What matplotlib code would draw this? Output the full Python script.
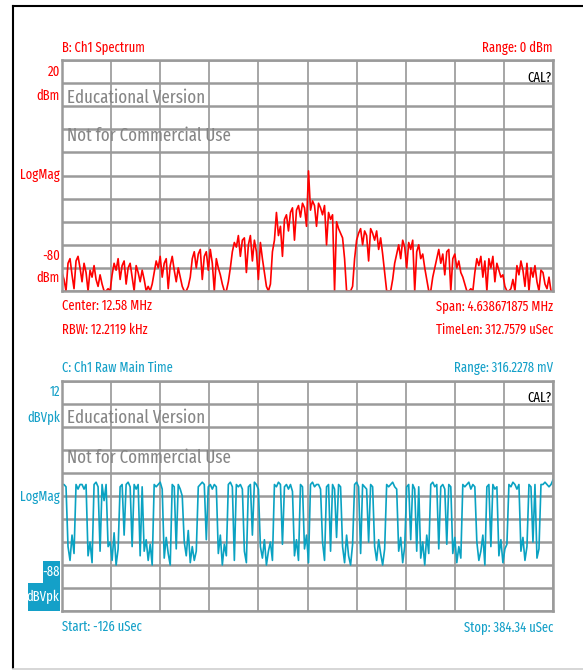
import numpy as np
import matplotlib
matplotlib.use("Agg")
import matplotlib.pyplot as plt
from matplotlib.lines import Line2D
from matplotlib.patches import Rectangle

plt.rcParams['font.family'] = ['Fira Sans Extra Condensed', 'Roboto Condensed', 'Liberation Sans', 'DejaVu Sans']

W, H = 583, 670

# spectrum settings (channel B)
center_mhz = 12.58
span_mhz = 4.638671875
spec_top, spec_bottom = 20, -80

# log-magnitude spectrum, dBm, left to right across the span
spec_dbm = [
    -72, -75, -80, -68, -66, -73, -79, -67, -65, -70, -76, -68, -72, -80, -71, -74, -69, -75, -78, -73, -77, -80,
    -80, -79, -80,
    -73, -68, -71, -66, -75, -69, -67, -77, -70, -68, -74, -80, -69, -72, -76, -71,
    -75, -80, -78, -80, -77,
    -72, -67, -70, -65, -74, -68, -66, -79, -69, -65, -71, -76, -70, -74, -78,
    -80, -80, -78,
    -74, -66, -63, -70, -64, -62, -75, -65, -63, -71, -62, -68, -80, -66, -70, -73, -77,
    -80, -80, -76,
    -70, -63, -59, -61, -56, -65, -58, -57, -72, -60, -56, -67, -58, -63, -75, -59, -66, -72, -78,
    -80, -77,
    -63, -58, -46, -56, -52, -65, -49, -47, -54, -46, -44, -58, -45, -43, -48, -42, -44, -52,
    -28,
    -45, -41, -43, -52, -42, -44, -47, -43, -60, -46, -49, -47, -80, -50, -53, -55, -57, -66,
    -80, -80, -80, -78,
    -66, -58, -55, -53, -60, -54, -56, -67, -53, -55, -58, -54, -62, -57, -64,
    -72, -80, -80, -80, -75,
    -68, -64, -60, -66, -58, -61, -70, -59, -62, -58, -80, -63, -60, -66, -64, -70,
    -75, -80, -80, -74,
    -70, -66, -62, -68, -64, -73, -63, -62, -80, -66, -64, -70, -67, -72, -74,
    -77, -80, -80, -79, -80,
    -72, -66, -69, -65, -74, -67, -80, -66, -70, -65, -76, -68, -71, -74, -73,
    -78, -80, -80, -79,
    -75, -80, -69, -73, -67, -71, -78, -68, -80, -70, -74, -69, -76, -80, -71, -72, -77, -79, -74, -80, -80,
]

# raw time record settings (channel C)
t_start_us, t_stop_us = -126.0, 384.34
time_top, time_bottom = 12, -88

# log-magnitude of the raw time record, dBVpk
time_dbvpk = [
    -33, -33, -34,
    -60, -66, -55, -63,
    -33, -35, -33, -33, -35, -33,
    -64, -58, -67,
    -33, -32, -34, -62, -33, -40, -33, -60,
    -58, -66, -54, -68, -61,
    -34, -33, -55, -33, -32, -34, -60, -33, -35, -33, -64, -34,
    -62, -57, -66, -59, -68,
    -33, -34, -33, -32, -35,
    -65, -56, -63, -68,
    -33, -34, -61, -33, -35, -38,
    -58, -64, -53, -67, -60, -66, -62,
    -34, -33, -32, -33, -57, -34, -33, -35, -33, -34,
    -63, -55, -68, -59, -64,
    -33, -32, -34, -66, -33, -34, -33, -35,
    -62, -67,
    -34, -33, -55, -32, -33, -35,
    -60, -65, -57, -68, -62, -58, -66,
    -33, -34, -32, -33, -59, -34, -33, -35, -33, -36,
    -64, -57, -66,
    -33, -34,
    -61, -55, -67,
    -33, -32, -34, -33, -33, -35,
    -58, -66,
    -34, -33, -62, -33, -35, -56, -33, -34,
    -60, -67, -55, -64, -68, -59,
    -33, -32, -34, -63, -33, -34, -35, -58, -33, -34, -60,
    -66, -57, -63, -68, -61,
    -33, -34, -33, -32, -34, -35,
    -62, -56, -67, -60,
    -34, -33, -57, -33, -35, -62, -34,
    -65, -58, -68, -55, -63,
    -33, -32, -34, -33, -61, -34, -33, -35, -59, -33, -34,
    -63, -56, -67, -60, -65,
    -33, -34, -33, -32, -35, -33, -34,
    -58, -66, -62, -55, -68,
    -34, -33, -60, -33, -35, -34,
    -64, -57, -67, -61, -59,
    -33, -34, -32, -33, -35, -33,
    -62, -56, -66, -60,
    -33, -34, -58, -33,
    -65, -61,
    -33, -33, -32, -33, -34, -33, -31,
]

RED = '#ff0000'
CYAN = '#14a0c8'
TRACE_CYAN = '#0aa2c2'
WATERMARK = '#858585'

fig = plt.figure(figsize=(W / 100, H / 100), dpi=100)
fig.patch.set_facecolor('white')
renderer = fig.canvas.get_renderer()


def fxy(x, y):
    return x / W, 1 - y / H


def fit_size(s, width, **kw):
    # font size at which `s` spans `width` pixels
    t = fig.text(0, 0, s, fontsize=10, **kw)
    w = t.get_window_extent(renderer).width
    t.remove()
    return 10 * width / w


LABEL_FS = fit_size('TimeLen: 312.7579 uSec', 118)
MARK_FS = fit_size('Not for Commercial Use', 164)


def put(x, y, s, ha='left', color=RED, fs=None, **kw):
    return fig.text(*fxy(x, y), s, fontsize=fs or LABEL_FS, ha=ha, va='center',
                    color=color, zorder=5, **kw)


def box(x0, y0, x1, y1, color):
    fig.add_artist(Rectangle(fxy(x0, y1), (x1 - x0) / W, (y1 - y0) / H,
                             transform=fig.transFigure, fc=color, ec='none', zorder=1))


def screen_axes(top, bottom, left=62, right=553):
    ax = fig.add_axes([left / W, 1 - bottom / H, (right - left) / W, (bottom - top) / H])
    ax.set_facecolor('white')
    ax.tick_params(length=0, labelbottom=False, labelleft=False)
    ax.xaxis.grid(True, color='#8e8e8e', lw=1.1)
    ax.yaxis.grid(True, color='#9a9a9a', lw=1.8)
    ax.set_axisbelow(True)
    for sp in ax.spines.values():
        sp.set_color('#9a9a9a')
        sp.set_linewidth(1.8)
    return ax


# outer frame
fig.add_artist(Line2D([12.5 / W, 1], [1 - 5.5 / H] * 2, color='black', lw=1.5))
fig.add_artist(Line2D([12.5 / W] * 2, [1 - 5.5 / H, 1 - 668 / H], color='black', lw=1.5))
fig.add_artist(Line2D([12.5 / W, 1], [1 - 668.5 / H] * 2, color='#d0d0d0', lw=1.2))

# ---- channel B: spectrum ----
f0 = center_mhz - span_mhz / 2
f1 = center_mhz + span_mhz / 2
freq = np.linspace(f0, f1, len(spec_dbm))
ax1 = screen_axes(60, 291)
ax1.set_xlim(f0, f1)
ax1.set_ylim(spec_bottom, spec_top)
ax1.set_xticks(np.linspace(f0, f1, 11))
ax1.set_yticks(np.arange(spec_bottom, spec_top + 1, 10))
ax1.plot(freq, spec_dbm, color=RED, lw=1.2)

put(62, 48, 'B: Ch1 Spectrum')
put(553, 48, 'Range: 0 dBm', ha='right')
put(552, 78, 'CAL?', ha='right', color='black')
put(60, 72, '20', ha='right')
put(60, 96, 'dBm', ha='right')
put(60, 175, 'LogMag', ha='right')
put(60, 256, '-80', ha='right')
put(60, 278, 'dBm', ha='right')
put(62, 306, 'Center: 12.58 MHz')
put(62, 330, 'RBW: 12.2119 kHz')
put(553, 306, 'Span: 4.638671875 MHz', ha='right')
put(553, 330, 'TimeLen: 312.7579 uSec', ha='right')
put(67, 98, 'Educational Version', color=WATERMARK, fs=MARK_FS)
put(67, 136, 'Not for Commercial Use', color=WATERMARK, fs=MARK_FS)

# ---- channel C: raw time record ----
t = np.linspace(t_start_us, t_stop_us, len(time_dbvpk))
ax2 = screen_axes(381, 611)
ax2.set_xlim(t_start_us, t_stop_us)
ax2.set_ylim(time_bottom, time_top)
ax2.set_xticks(np.linspace(t_start_us, t_stop_us, 11))
ax2.set_yticks(np.arange(time_bottom, time_top + 1, 10))
ax2.plot(t, time_dbvpk, color=TRACE_CYAN, lw=1.2)

put(62, 368, 'C: Ch1 Raw Main Time', color=CYAN)
put(553, 368, 'Range: 316.2278 mV', ha='right', color=CYAN)
put(552, 398, 'CAL?', ha='right', color='black')
put(60, 392, '12', ha='right', color=CYAN)
put(60, 418, 'dBVpk', ha='right', color=CYAN)
put(60, 497, 'LogMag', ha='right', color=CYAN)
box(43, 561, 60, 584, CYAN)
box(27.5, 583, 60, 611, CYAN)
put(59.5, 572, '-88', ha='right', color='white')
put(59.5, 597, 'dBVpk', ha='right', color='white')
put(62, 627, 'Start: -126 uSec', color=CYAN)
put(553, 627, 'Stop: 384.34 uSec', ha='right', color=CYAN)
put(67, 418, 'Educational Version', color=WATERMARK, fs=MARK_FS)
put(67, 458, 'Not for Commercial Use', color=WATERMARK, fs=MARK_FS)

fig.savefig('out.png', dpi=100)
